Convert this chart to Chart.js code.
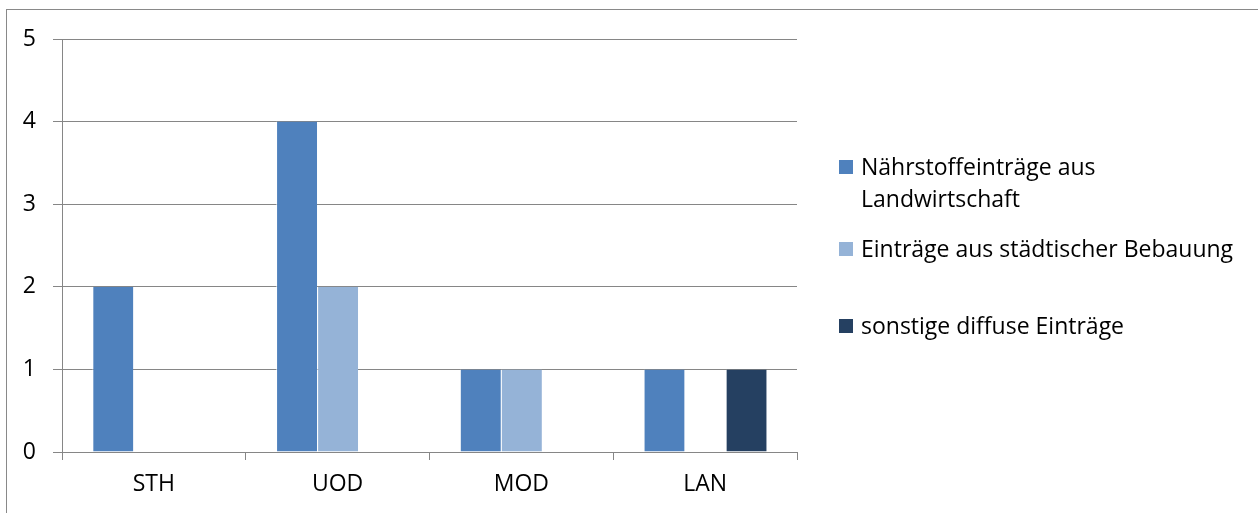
<!DOCTYPE html>
<html>
<head>
<meta charset="utf-8">
<script src="https://cdn.jsdelivr.net/npm/chart.js@4.4.1/dist/chart.umd.min.js"></script>
<style>
  html, body { margin: 0; padding: 0; background: #fff; }
  body { width: 1258px; height: 513px; position: relative; overflow: hidden; font-family: "Open Sans", sans-serif; }
  #frame {
    position: absolute; left: 6px; top: 9px; width: 1300px; height: 560px;
    border: 1px solid #898989; border-right: none; border-bottom: none;
  }
  #chartBox { position: absolute; left: 0; top: 0; width: 1258px; height: 513px; }
  #legend { position: absolute; left: 839px; top: 0; }
  .item { position: absolute; left: 0; width: 410px; font-size: 23px; line-height: 32px; color: #000; white-space: nowrap; }
  .swatch { position: absolute; left: 0; width: 14px; height: 14px; }
  .item span.txt { position: absolute; left: 22px; }
</style>
</head>
<body>
<div id="frame"></div>
<div id="chartBox"><canvas id="chart" width="1258" height="513"></canvas></div>
<div id="legend"></div>

<script>
// Kategorien und Serien
const categories = ["STH", "UOD", "MOD", "LAN"];

const landwirtschaft = [2, 4, 1, 1];
const staedtisch     = [null, 2, 1, null];
const sonstige       = [null, null, null, 1];

const seriesLabels = [
    ["Nährstoffeinträge aus", "Landwirtschaft"],
    ["Einträge aus städtischer Bebauung"],
    ["sonstige diffuse Einträge"]
];
const seriesColors = ["#4F81BD", "#95B3D7", "#254061"];

const yTicks = [0, 1, 2, 3, 4, 5];

// ── Chart ──────────────────────────────────────────────────────────────────

const gridColor = "#868686";
const tickFont  = { family: "Open Sans", size: 23 };

const datasets = [landwirtschaft, staedtisch, sonstige].map((data, i) => ({
    label: seriesLabels[i].join(" "),
    data,
    backgroundColor: seriesColors[i],
    borderColor: "rgba(255,255,255,0.6)",
    borderWidth: { left: 1, right: 0, top: 0, bottom: 0 },
    borderSkipped: false,
    categoryPercentage: 0.67,
    barPercentage: 1.0
}));

const chart = new Chart(document.getElementById("chart"), {
    type: "bar",
    data: { labels: categories, datasets },
    options: {
        responsive: false,
        animation: false,
        events: [],
        layout: { padding: { left: 0, right: 461, top: 39, bottom: 0 } },
        plugins: {
            legend: { display: false },
            tooltip: { enabled: false }
        },
        scales: {
            x: {
                grid: {
                    drawOnChartArea: false,
                    drawTicks: true,
                    tickLength: 8,
                    color: gridColor,
                    offset: true
                },
                border: { color: gridColor, width: 1 },
                ticks: { color: "#000", font: tickFont, padding: 11 },
                afterFit: scale => { scale.height = 61; }
            },
            y: {
                min: 0,
                max: 5,
                afterBuildTicks: scale => { scale.ticks = yTicks.map(v => ({ value: v })); },
                grid: { color: gridColor, tickLength: 9 },
                border: { color: gridColor, width: 1 },
                ticks: { color: "#000", font: tickFont, padding: 17 },
                afterFit: scale => { scale.width = 62; }
            }
        }
    }
});

// ── Legend (HTML, built from the chart's datasets) ─────────────────────────

const legendEl  = document.getElementById("legend");
const legendTop = [150, 232, 309];

chart.data.datasets.forEach((ds, i) => {
    const item = document.createElement("div");
    item.className = "item";
    item.style.top = legendTop[i] + "px";

    const sw = document.createElement("div");
    sw.className = "swatch";
    sw.style.background = ds.backgroundColor;
    sw.style.top = "10px";
    item.appendChild(sw);

    const txt = document.createElement("span");
    txt.className = "txt";
    txt.innerHTML = seriesLabels[i].join("<br>");
    item.appendChild(txt);

    legendEl.appendChild(item);
});
</script>
</body>
</html>
